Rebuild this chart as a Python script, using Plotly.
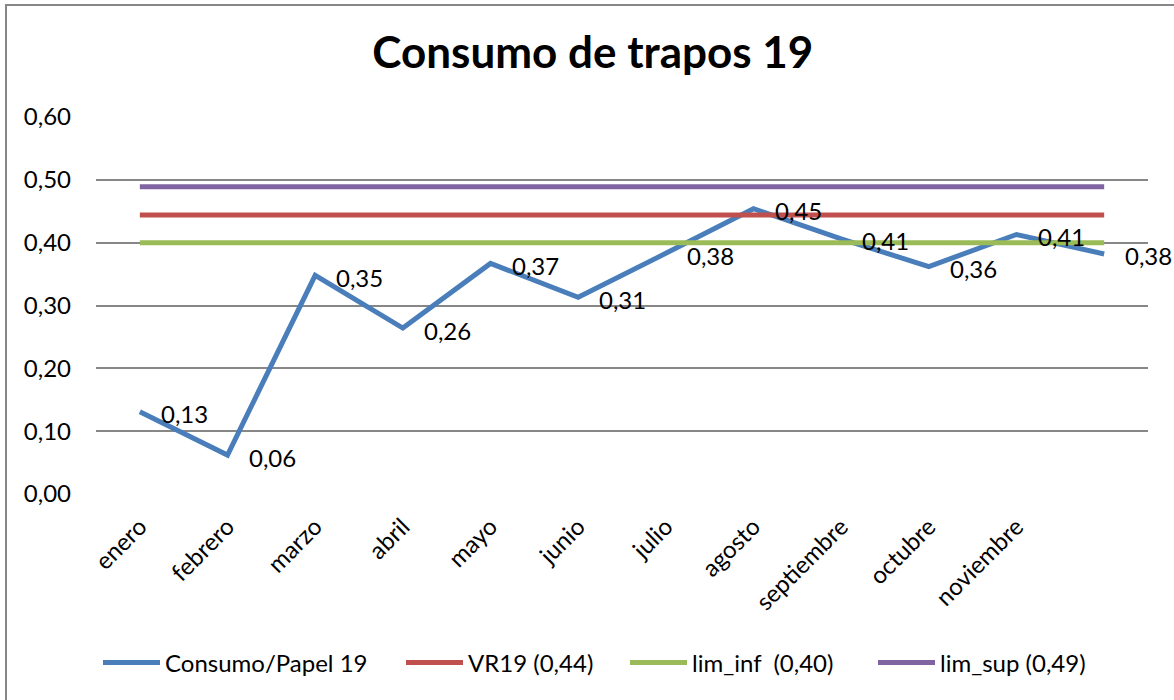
import plotly.graph_objects as go

months = ["enero", "febrero", "marzo", "abril", "mayo", "junio", "julio",
          "agosto", "septiembre", "octubre", "noviembre", ""]
consumo = [0.131, 0.062, 0.348, 0.264, 0.367, 0.313, 0.383, 0.454, 0.406, 0.362, 0.413, 0.382]
vr19 = [0.444, 0.444, 0.444, 0.444, 0.444, 0.444, 0.444, 0.444, 0.444, 0.444, 0.444, 0.444]
lim_inf = [0.40, 0.40, 0.40, 0.40, 0.40, 0.40, 0.40, 0.40, 0.40, 0.40, 0.40, 0.40]
lim_sup = [0.489, 0.489, 0.489, 0.489, 0.489, 0.489, 0.489, 0.489, 0.489, 0.489, 0.489, 0.489]
y_ticks = [0.0, 0.1, 0.2, 0.3, 0.4, 0.5, 0.6]

names = ["Consumo/Papel 19", "VR19 (0,44)", "lim_inf  (0,40)", "lim_sup (0,49)"]
colors = ["#4A7EBB", "#C0504D", "#9BBB59", "#8064A2"]
legend_ids = ["legend", "legend2", "legend3", "legend4"]
legend_left_px = [103, 406, 630, 878]

FONT = "Lato"
x = list(range(len(months)))

fig = go.Figure()
for vals, name, col, lid in zip([consumo, vr19, lim_inf, lim_sup], names, colors, legend_ids):
    fig.add_trace(go.Scatter(x=x, y=vals, mode="lines", name=name, legend=lid,
                             line=dict(color=col, width=5)))

annotations = []
for xi, v in zip(x, consumo):
    annotations.append(dict(x=xi, y=v, xref="x", yref="y",
                            text=f"{v:.2f}".replace(".", ","),
                            showarrow=False, xanchor="left", yanchor="middle",
                            xshift=19, yshift=-2,
                            font=dict(family=FONT, size=24, color="#000000")))

legend_layouts = {}
for lid, px in zip(legend_ids, legend_left_px):
    legend_layouts[lid] = dict(orientation="h", xref="container", yref="container",
                               x=(px - 5) / 1174, xanchor="left",
                               y=1 - 663 / 700, yanchor="middle",
                               font=dict(family=FONT, size=24, color="#000000"),
                               itemwidth=57, bgcolor="rgba(0,0,0,0)")

fig.update_layout(
    width=1174, height=700,
    paper_bgcolor="white", plot_bgcolor="white",
    margin=dict(l=96, r=26, t=117, b=206),
    title=dict(text="<b>Consumo de trapos 19</b>", x=0.505, xanchor="center",
               y=0.925, yanchor="middle",
               font=dict(family=FONT, size=44, color="#000000")),
    xaxis=dict(range=[-0.5, 11.5], tickmode="array", tickvals=x, ticktext=months,
               tickangle=-45, showgrid=False, zeroline=False, showline=False,
               ticks="", ticklabelstandoff=13,
               tickfont=dict(family=FONT, size=24, color="#000000")),
    yaxis=dict(range=[0, 0.6], tickmode="array", tickvals=y_ticks,
               ticktext=[f"{t:.2f}".replace(".", ",") for t in y_ticks],
               showgrid=True, gridcolor="#878787", gridwidth=1.5,
               zeroline=False, showline=False, ticks="", ticklabelstandoff=24,
               tickfont=dict(family=FONT, size=24, color="#000000")),
    showlegend=True,
    annotations=annotations,
    shapes=[dict(type="rect", xref="paper", yref="paper",
                 x0=(6 - 96) / 1052, x1=1.2, y0=-0.8, y1=(494 - 5) / 377,
                 line=dict(color="#878787", width=2), layer="below")],
    **legend_layouts,
)

fig.write_html("out.html", config={"displayModeBar": False},
               post_script="document.body.style.margin='0';document.body.style.overflow='hidden';")
